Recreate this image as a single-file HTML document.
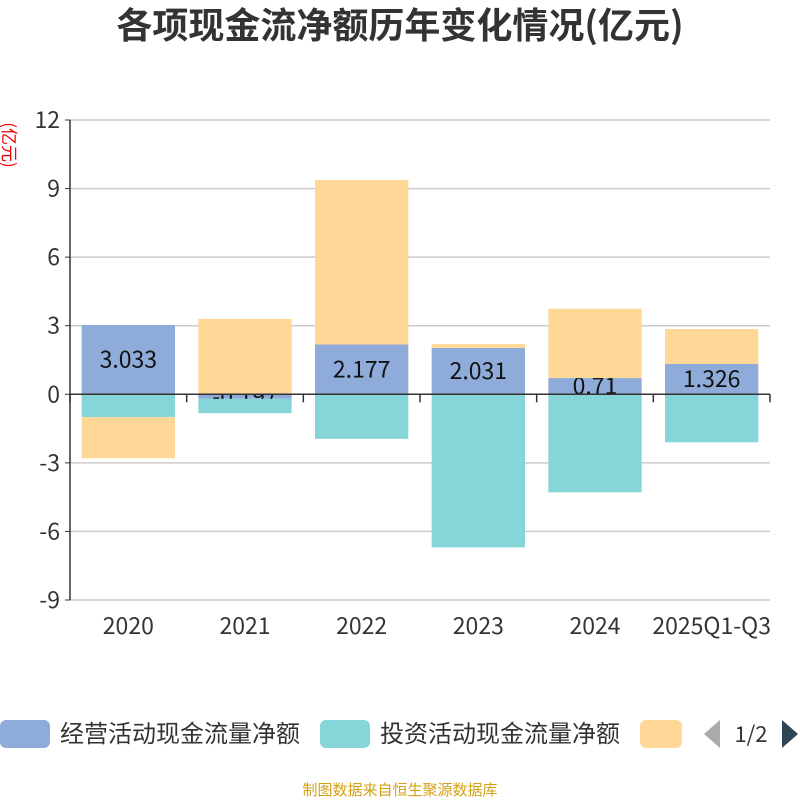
<!DOCTYPE html>
<html><head><meta charset="utf-8"><style>
body{margin:0;background:#fff;font-family:"Noto Sans CJK SC","Liberation Sans",sans-serif}
</style></head><body>
<svg width="800" height="800" xmlns="http://www.w3.org/2000/svg" font-family="Noto Sans CJK SC, Liberation Sans, sans-serif">
<text x="400" y="38" text-anchor="middle" font-size="36" font-weight="bold" fill="#333">各项现金流净额历年变化情况(亿元)</text>
<text transform="translate(3,145) rotate(90)" text-anchor="middle" font-size="17" fill="#e00">(亿元)</text>
<g id="grid"></g><g id="bars"></g><g id="axes"></g>
<g>
<rect x="0" y="720" width="50" height="28" rx="6" fill="#8eabd9"/>
<text x="60" y="742" font-size="24" fill="#333">经营活动现金流量净额</text>
<rect x="320" y="720" width="50" height="28" rx="6" fill="#86d5d9"/>
<text x="380" y="742" font-size="24" fill="#333">投资活动现金流量净额</text>
<rect x="640" y="720" width="42" height="28" rx="6" fill="#ffd898"/>
<polygon points="720,720 720,748 704,734" fill="#aaa"/>
<text x="751" y="742" text-anchor="middle" font-size="22" fill="#333">1/2</text>
<polygon points="782,720 782,748 798,734" fill="#2f4554"/>
</g>
<text x="400" y="795" text-anchor="middle" font-size="15" fill="#d4a017">制图数据来自恒生聚源数据库</text>
</svg>
<script>
const categories=["2020","2021","2022","2023","2024","2025Q1-Q3"];
const operating=[3.033,-0.197,2.177,2.031,0.71,1.326];
const investing=[-1.0,-0.63,-1.95,-6.7,-4.29,-2.1];
const financing=[-1.8,3.3,7.2,0.17,3.03,1.53];
const yTicks=[12,9,6,3,0,-3,-6,-9];
const NS="http://www.w3.org/2000/svg";
const X0=70,X1=770,Y0=120,Y1=600,ymax=12,ymin=-9;
const y=v=>Y0+(ymax-v)/(ymax-ymin)*(Y1-Y0);
const bw=(X1-X0)/categories.length;
const xc=i=>X0+bw*(i+0.5);
function mk(tag,a,p){const e=document.createElementNS(NS,tag);for(const k in a)e.setAttribute(k,a[k]);p.appendChild(e);return e;}
const grid=document.getElementById('grid'),bars=document.getElementById('bars'),axes=document.getElementById('axes');
yTicks.forEach(t=>{
 const l=mk('line',{x1:X0,x2:X1,y1:y(t),y2:y(t),stroke:'#ccc','stroke-width':1.5},grid);
 
 
 const tx=mk('text',{x:X0-10,y:y(t)+8,'text-anchor':'end','font-size':23,fill:'#333'},axes);
 tx.textContent=t;
 
 
 const tk=mk('line',{x1:X0-5,x2:X0,y1:y(t),y2:y(t),stroke:'#333'},axes);
 
 
});
const ya=mk('line',{x1:X0,x2:X0,y1:Y0,y2:Y1,stroke:'#333','stroke-width':1.5},axes);


const xa=mk('line',{x1:X0,x2:X1,y1:y(0),y2:y(0),stroke:'#333','stroke-width':1.5},axes);


for(let i=0;i<=categories.length;i++){
 const tk=mk('line',{x1:X0+bw*i,x2:X0+bw*i,y1:y(0),y2:y(0)+8,stroke:'#333','stroke-width':1.5},axes);
 
 
}
const W=bw*0.8;
const pos=categories.map(()=>0),neg=categories.map(()=>0);
function stack(vals,color,name,label){
 vals.forEach((v,i)=>{
  let a,b;
  if(v>=0){a=pos[i];b=pos[i]+v;pos[i]=b;}else{a=neg[i];b=neg[i]+v;neg[i]=b;}
  const r=mk('rect',{x:xc(i)-W/2,y:Math.min(y(a),y(b)),width:W,height:Math.abs(y(a)-y(b)),fill:color},bars);
  
  
  if(label){
   const t=mk('text',{x:xc(i),y:(y(a)+y(b))/2+8,'text-anchor':'middle','font-size':23,fill:'#111'},bars);
   t.textContent=v;
   
   
  }
 });
}
stack(operating,'#8eabd9','operating',true);
stack(investing,'#86d5d9','investing',false);
stack(financing,'#ffd898','financing',false);
categories.forEach((c,i)=>{
 const t=mk('text',{x:xc(i),y:634,'text-anchor':'middle','font-size':23,fill:'#333'},axes);
 t.textContent=c;
 
 
});
</script>
</body></html>
